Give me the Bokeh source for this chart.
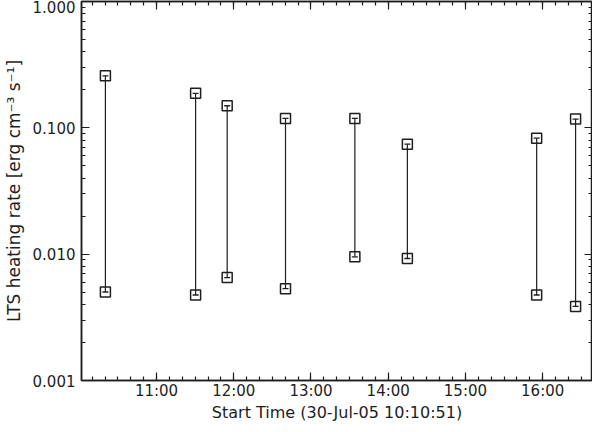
from bokeh.plotting import figure
from bokeh.models import (FixedTicker, LinearAxis, LogAxis, CustomJSTickFormatter,
                          Range1d, ColumnDataSource)
from bokeh.embed import file_html
from bokeh.resources import INLINE

# ---- data (start times in decimal hours on 30-Jul-05) ----
start_hours = [10.338, 11.506, 11.915, 12.670, 13.568, 14.248, 15.922, 16.426]
rate_high = [0.258, 0.1875, 0.1496, 0.1186, 0.1186, 0.0742, 0.0828, 0.1173]
rate_low = [0.00502, 0.00475, 0.00653, 0.00533, 0.00953, 0.00924, 0.00475, 0.00386]

x_major_ticks = [11, 12, 13, 14, 15, 16]
y_major_ticks = [0.001, 0.01, 0.1, 1.0]
x_label = "Start Time (30-Jul-05 10:10:51)"
y_label = "LTS heating rate [erg cm\u207b\u00b3 s\u207b\u00b9]"

x_start, x_end = 10.0285, 16.645
y_start, y_end = 0.001, 1.0

INK = "#1e1e1e"
FONT = "DejaVu Sans"

x_minor = [10 + i / 6.0 for i in range(0, 7 * 6)]
y_minor = [m * d for d in [0.001, 0.01, 0.1] for m in range(2, 10)]

p = figure(width=592, height=424, output_backend="svg", toolbar_location=None,
           y_axis_type="log", x_axis_type=None,
           x_range=Range1d(x_start, x_end), y_range=Range1d(y_start, y_end),
           min_border_left=80, min_border_right=0, min_border_top=1, min_border_bottom=30)
p.background_fill_color = "white"
p.border_fill_color = "white"
p.outline_line_color = INK
p.outline_line_width = 1.5
p.xgrid.visible = False
p.ygrid.visible = False

xticker = FixedTicker(ticks=x_major_ticks, minor_ticks=x_minor)
yticker = FixedTicker(ticks=y_major_ticks, minor_ticks=y_minor)

def style_axis(ax, labels=True):
    ax.axis_line_color = INK
    ax.axis_line_width = 1.5
    ax.major_tick_line_color = INK
    ax.minor_tick_line_color = INK
    ax.major_tick_line_width = 1.2
    ax.minor_tick_line_width = 1.2
    ax.major_tick_in = 8
    ax.major_tick_out = 0
    ax.minor_tick_in = 4
    ax.minor_tick_out = 0
    ax.major_label_text_color = INK
    ax.major_label_text_font = FONT
    ax.major_label_text_font_size = "15px"
    ax.axis_label_text_color = INK
    ax.axis_label_text_font = FONT
    ax.axis_label_text_font_size = "17px"
    ax.axis_label_text_font_style = "normal"
    if not labels:
        ax.major_label_text_font_size = "0px"
        ax.major_label_standoff = 0
        ax.major_label_text_alpha = 0

xfmt = CustomJSTickFormatter(code="return Math.round(tick) + ':00';")
yfmt = CustomJSTickFormatter(code="return tick.toFixed(3);")

xb = LinearAxis(ticker=xticker, formatter=xfmt, axis_label=x_label)
style_axis(xb)
xb.axis_label_text_font_size = "16px"
xb.major_label_standoff = 1
xb.axis_label_standoff = 0
p.add_layout(xb, "below")

xt = LinearAxis(ticker=xticker, formatter=xfmt)
style_axis(xt, labels=False)
p.add_layout(xt, "above")

yl = p.yaxis[0]
yl.ticker = yticker
yl.formatter = yfmt
yl.axis_label = y_label
style_axis(yl)
yl.major_label_standoff = 6
yl.axis_label_standoff = 6

yr = LogAxis(ticker=yticker, formatter=yfmt)
style_axis(yr, labels=False)
p.add_layout(yr, "right")

src = ColumnDataSource(dict(t=start_hours, hi=rate_high, lo=rate_low))
p.segment(x0="t", y0="lo", x1="t", y1="hi", source=src, line_color=INK, line_width=1.2)
for col in ["hi", "lo"]:
    p.scatter(x="t", y=col, source=src, marker="square", size=10,
              fill_color=None, line_color=INK, line_width=1.5)
    p.scatter(x="t", y=col, source=src, marker="dash", size=6,
              line_color=INK, line_width=1.3)

open("out.html", "w").write(file_html(p, INLINE))
